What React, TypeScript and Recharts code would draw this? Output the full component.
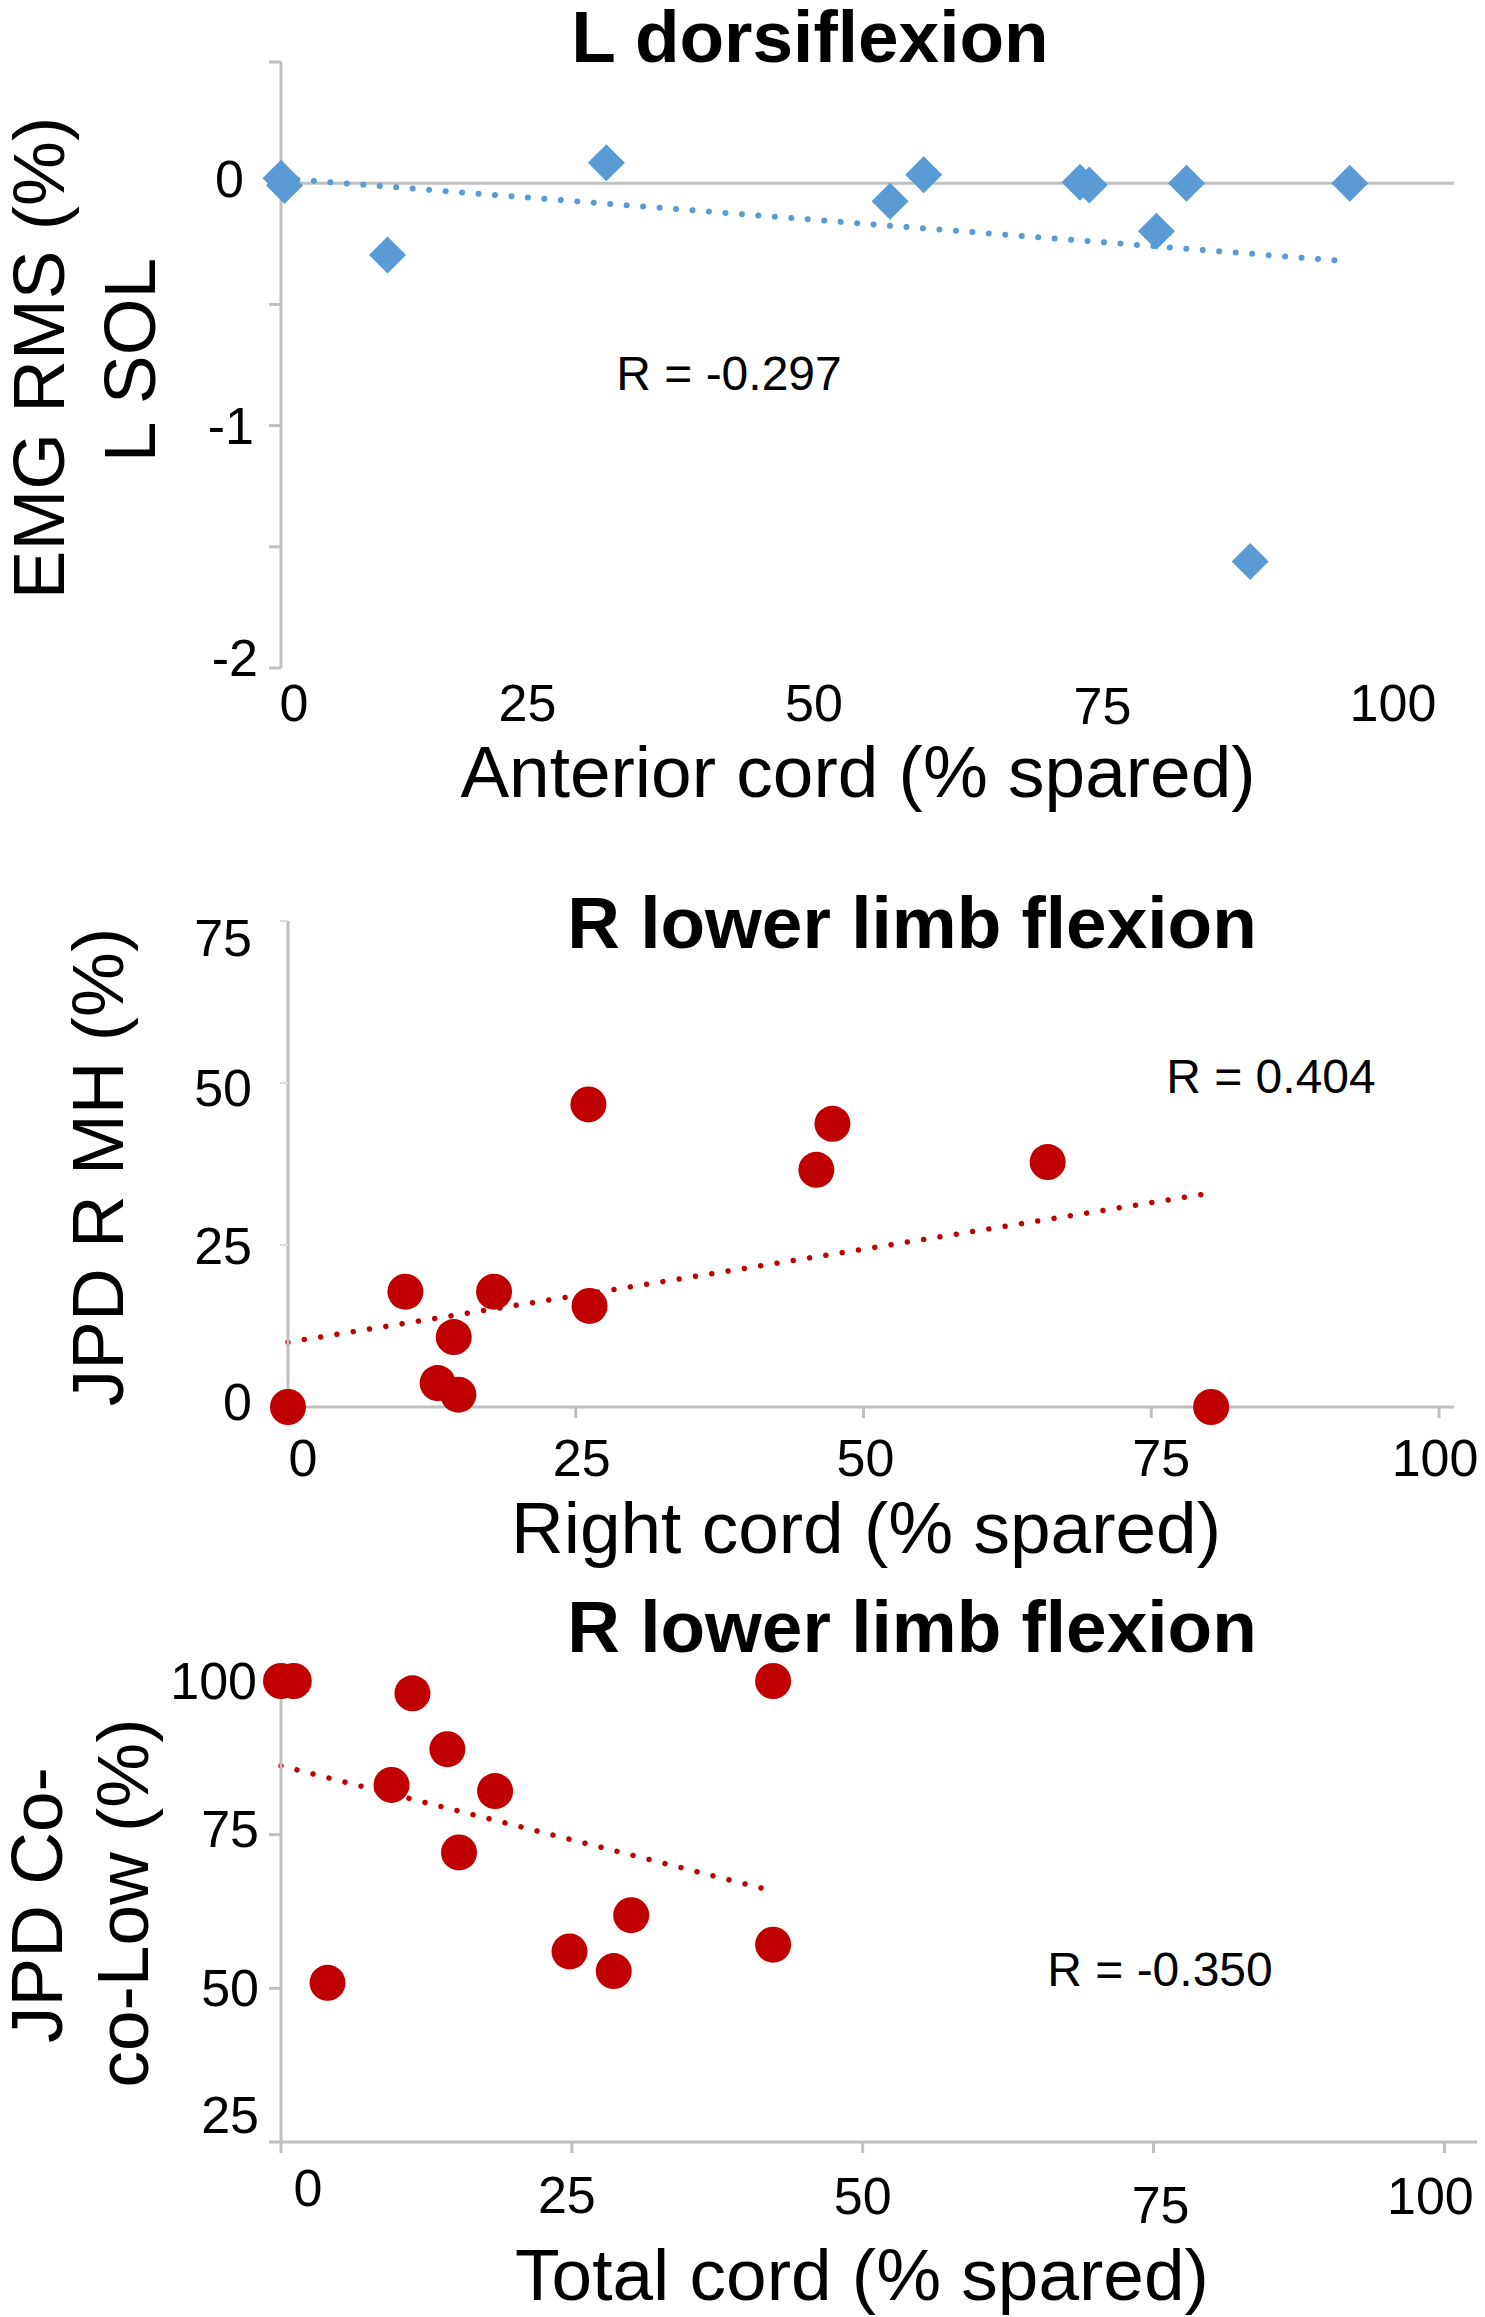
import React from 'react'
import { ScatterChart, Scatter, XAxis, YAxis, ReferenceLine } from 'recharts'

// L dorsiflexion: anterior cord (% spared) vs EMG RMS L SOL (%)
const anteriorCord = [0, 0.3, 9.2, 28.1, 52.6, 55.5, 69.0, 69.8, 75.6, 78.2, 83.7, 92.3]
const emgRmsLSol = [0.02, -0.01, -0.296, 0.084, -0.074, 0.035, 0.004, -0.007, -0.198, 0, -1.561, 0]
const emgTrendX = [0, 91]
const emgTrendY = [0.02, -0.318]

// R lower limb flexion: right cord (% spared) vs JPD R MH (%)
const rightCord = [0, 10.2, 13.0, 14.4, 14.8, 17.9, 26.1, 26.2, 45.9, 47.3, 66.0, 80.2]
const jpdRMh = [0, 17.8, 3.7, 10.8, 1.9, 17.8, 46.7, 15.6, 36.6, 43.7, 37.8, 0]
const mhTrendX = [0, 80.1]
const mhTrendY = [10.0, 33.0]

// R lower limb flexion: total cord (% spared) vs JPD co-co-low (%)
const totalCord = [0, 1.1, 11.3, 14.3, 9.5, 18.4, 15.3, 4.0, 24.8, 28.6, 30.1, 42.3, 42.3]
const jpdCoLow = [100, 100, 98.0, 88.9, 83.1, 82.1, 72.1, 50.9, 56.0, 52.8, 61.9, 100, 57.1]
const coLowTrendX = [0, 41.3]
const coLowTrendY = [86.2, 66.3]

const xTicks = [0, 25, 50, 75, 100]

const toPoints = (xs: number[], ys: number[]) => xs.map((x, i) => ({ x, y: ys[i] }))

const FONT = '"Liberation Sans", Arial, sans-serif'
const GRID = '#bfbfbf'
const BLUE = '#5b9bd5'
const RED = '#c00000'

type Offsets = Record<number, [number, number]>

const makeTick = (offsets: Offsets, anchor: 'middle' | 'end', show?: (v: number) => boolean) =>
  (props: any) => {
    const { x, y, payload } = props
    const v = payload.value
    if (show && !show(v)) return <g />
    const [dx, dy] = offsets[v] ?? [0, 0]
    return (
      <text x={x + dx} y={y + dy} textAnchor={anchor} dominantBaseline="central"
        fontSize={52} fontFamily={FONT} fill="#000">
        {String(v)}
      </text>
    )
  }

const Diamond = (props: any) => {
  const { cx, cy } = props
  const r = 18.5
  return <polygon points={`${cx},${cy - r} ${cx + r},${cy} ${cx},${cy + r} ${cx - r},${cy}`} fill={BLUE} />
}

const Dot = (props: any) => <circle cx={props.cx} cy={props.cy} r={18} fill={RED} />

const dotted = (color: string, w: number) => ({
  stroke: color,
  strokeWidth: w,
  strokeDasharray: '0.01 16.5',
  strokeLinecap: 'round' as const,
})

function Texts({ w, h, children }: { w: number; h: number; children: React.ReactNode }) {
  return (
    <svg width={w} height={h} fontFamily={FONT}
      style={{ position: 'absolute', left: 0, top: 0, pointerEvents: 'none', overflow: 'visible' }}>
      {children}
    </svg>
  )
}

const Rot = ({ x, y, text }: { x: number; y: number; text: string }) => (
  <text transform={`translate(${x},${y}) rotate(-90)`} textAnchor="middle" fontSize={73}>{text}</text>
)

function DorsiflexionPanel() {
  const data = toPoints(anteriorCord, emgRmsLSol)
  const trend = toPoints(emgTrendX, emgTrendY)
  return (
    <div style={{ position: 'absolute', left: 0, top: 0, width: 1485, height: 800 }}>
      <ScatterChart width={1485} height={800} margin={{ top: 62, right: 31, left: 201, bottom: 72 }}>
        <XAxis type="number" dataKey="x" domain={[0, 101.3]} ticks={xTicks} interval={0}
          height={60} axisLine={false} tickLine={false} tickSize={0} tickMargin={0}
          tick={makeTick({ 0: [13, 35], 25: [-43, 35], 50: [-46, 35], 75: [-47, 38], 100: [-46, 35] }, 'middle')} />
        <YAxis type="number" dataKey="y" domain={[-2, 0.5]} ticks={[-2, -1.5, -1, -0.5, 0, 0.5]} interval={0}
          width={80} axisLine={{ stroke: GRID, strokeWidth: 3 }}
          tickLine={{ stroke: GRID, strokeWidth: 3 }} tickSize={12} tickMargin={0}
          tick={makeTick({ 0: [-25, -4], '-1': [-15, 0], '-2': [-11, -10] } as any, 'end', (v) => Number.isInteger(v) && v <= 0)} />
        <ReferenceLine y={0} stroke={GRID} strokeWidth={3} />
        <Scatter data={data} shape={Diamond} isAnimationActive={false} />
        <ReferenceLine segment={trend} {...dotted(BLUE, 6)} />
      </ScatterChart>
      <Texts w={1485} h={800}>
        <text x={810} y={62} textAnchor="middle" fontSize={73} fontWeight="bold">L dorsiflexion</text>
        <Rot x={64} y={358} text="EMG RMS (%)" />
        <Rot x={155} y={360} text="L SOL" />
        <text x={858} y={797} textAnchor="middle" fontSize={73}>Anterior cord (% spared)</text>
        <text x={729} y={390} textAnchor="middle" fontSize={48}>R = -0.297</text>
      </Texts>
    </div>
  )
}

function RightCordPanel() {
  const data = toPoints(rightCord, jpdRMh)
  const trend = toPoints(mhTrendX, mhTrendY)
  return (
    <div style={{ position: 'absolute', left: 0, top: 800, width: 1485, height: 800 }}>
      <ScatterChart width={1485} height={800} margin={{ top: 121, right: 31, left: 208, bottom: 133 }}>
        <XAxis type="number" dataKey="x" domain={[0, 101.3]} ticks={xTicks} interval={0}
          height={60} axisLine={{ stroke: GRID, strokeWidth: 3 }} tickLine={{ stroke: GRID, strokeWidth: 3 }}
          tickSize={11} tickMargin={0}
          tick={makeTick({ 0: [15, 40], 25: [6, 40], 50: [2, 40], 75: [10, 40], 100: [-4, 40] }, 'middle')} />
        <YAxis type="number" dataKey="y" domain={[0, 75]} ticks={[0, 25, 50, 75]} interval={0}
          width={80} axisLine={{ stroke: GRID, strokeWidth: 3 }} tickLine={{ stroke: '#d9d9d9', strokeWidth: 2 }}
          tickSize={8} tickMargin={0}
          tick={makeTick({ 0: [-28, -5], 25: [-28, 1], 50: [-28, 5], 75: [-28, 17] }, 'end')} />
        <Scatter data={data} shape={Dot} isAnimationActive={false} />
        <ReferenceLine segment={trend} {...dotted(RED, 5.5)} />
      </ScatterChart>
      <Texts w={1485} h={800}>
        <text x={912} y={148} textAnchor="middle" fontSize={73} fontWeight="bold">R lower limb flexion</text>
        <Rot x={123} y={367} text="JPD R MH (%)" />
        <text x={866} y={753} textAnchor="middle" fontSize={73}>Right cord (% spared)</text>
        <text x={1271} y={293} textAnchor="middle" fontSize={48}>R = 0.404</text>
      </Texts>
    </div>
  )
}

function TotalCordPanel() {
  const data = toPoints(totalCord, jpdCoLow)
  const trend = toPoints(coLowTrendX, coLowTrendY)
  return (
    <div style={{ position: 'absolute', left: 0, top: 1580, width: 1485, height: 737 }}>
      <ScatterChart width={1485} height={737} margin={{ top: 101, right: 8, left: 201, bottom: 115 }}>
        <XAxis type="number" dataKey="x" domain={[0, 102.8]} ticks={xTicks} interval={0}
          height={60} axisLine={{ stroke: GRID, strokeWidth: 3 }} tickLine={{ stroke: GRID, strokeWidth: 3 }}
          tickSize={11} tickMargin={0}
          tick={makeTick({ 0: [27, 35], 25: [-5, 42], 50: [0, 43], 75: [7, 52], 100: [-14, 43] }, 'middle')} />
        <YAxis type="number" dataKey="y" domain={[25, 100]} ticks={[25, 50, 75, 100]} interval={0}
          width={80} axisLine={{ stroke: GRID, strokeWidth: 3 }} tickLine={{ stroke: GRID, strokeWidth: 3 }}
          tickSize={12} tickMargin={0}
          tick={makeTick({ 25: [-10, -27], 50: [-10, 0], 75: [-10, -6], 100: [-12, 0] }, 'end')} />
        <Scatter data={data} shape={Dot} isAnimationActive={false} />
        <ReferenceLine segment={trend} {...dotted(RED, 5.5)} />
      </ScatterChart>
      <Texts w={1485} h={737}>
        <text x={912} y={72} textAnchor="middle" fontSize={73} fontWeight="bold">R lower limb flexion</text>
        <Rot x={62} y={325} text="JPD Co-" />
        <Rot x={148} y={323} text="co-Low (%)" />
        <text x={862} y={720} textAnchor="middle" fontSize={73}>Total cord (% spared)</text>
        <text x={1160} y={406} textAnchor="middle" fontSize={48}>R = -0.350</text>
      </Texts>
    </div>
  )
}

export default function App() {
  return (
    <div style={{ position: 'relative', width: 1485, height: 2317, background: '#fff', fontFamily: FONT }}>
      <style>{'body{margin:0}'}</style>
      <DorsiflexionPanel />
      <RightCordPanel />
      <TotalCordPanel />
    </div>
  )
}
